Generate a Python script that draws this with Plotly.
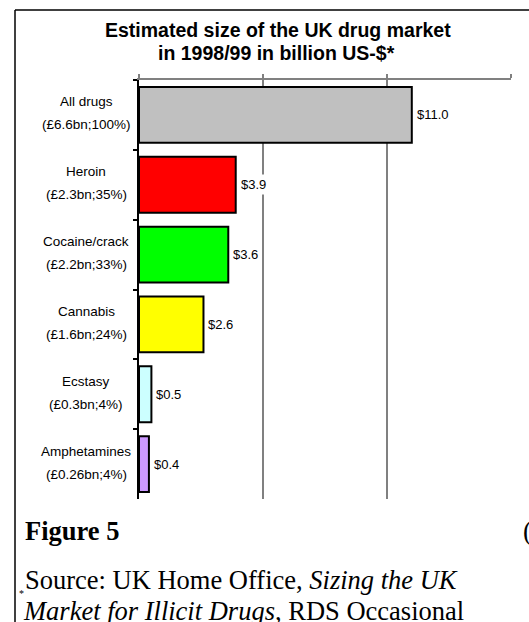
import plotly.graph_objects as go

# Market segments, top to bottom
drugs = ["All drugs", "Heroin", "Cocaine/crack", "Cannabis", "Ecstasy", "Amphetamines"]
gbp_share = ["(£6.6bn;100%)", "(£2.3bn;35%)", "(£2.2bn;33%)",
             "(£1.6bn;24%)", "(£0.3bn;4%)", "(£0.26bn;4%)"]
usd_billion = [11.0, 3.9, 3.6, 2.6, 0.5, 0.4]
bar_colors = ["#C0C0C0", "#FF0000", "#00FF00", "#FFFF00", "#CCFFFF", "#CC99FF"]

W, H = 529, 622
L, R, T, B = 139, 18, 80, 123
PW, PH = W - L - R, H - T - B


def px_x(x):
    return (x - L) / PW


def px_y(y):
    return (H - B - y) / PH


fig = go.Figure(go.Bar(
    x=usd_billion,
    y=drugs,
    orientation="h",
    marker=dict(color=bar_colors, line=dict(color="black", width=2)),
    hoverinfo="skip",
))

# value labels at the bar ends
for d, v in zip(drugs, usd_billion):
    fig.add_annotation(x=v, y=d, xref="x", yref="y", text=f"${v:.1f}",
                       showarrow=False, xanchor="left", xshift=2,
                       bgcolor="white", borderpad=2,
                       font=dict(family="Liberation Sans", size=13, color="black"))

# two-line category labels
label_font = dict(family="Liberation Sans", size=13.5, color="black")
for d, g in zip(drugs, gbp_share):
    fig.add_annotation(x=px_x(86), y=d, xref="paper", yref="y", text=d,
                       showarrow=False, xanchor="center", yanchor="middle", yshift=13,
                       font=label_font)
    fig.add_annotation(x=px_x(86), y=d, xref="paper", yref="y", text=g,
                       showarrow=False, xanchor="center", yanchor="middle", yshift=-10,
                       font=label_font)

title_font = dict(family="Liberation Sans", size=19.5, color="black", weight="bold")
fig.add_annotation(x=px_x(278), y=px_y(30), xref="paper", yref="paper",
                   text="Estimated size of the UK drug market", showarrow=False,
                   xanchor="center", yanchor="middle", font=title_font)
fig.add_annotation(x=px_x(276), y=px_y(53), xref="paper", yref="paper",
                   text="in 1998/99 in billion US-$*", showarrow=False,
                   xanchor="center", yanchor="middle", font=title_font)

serif = dict(family="Liberation Serif", size=26.5, color="black")
fig.add_annotation(x=px_x(23), y=px_y(531), xref="paper", yref="paper",
                   text="<b>Figure 5</b>", showarrow=False,
                   xanchor="left", yanchor="middle", font=serif)
fig.add_annotation(x=px_x(521), y=px_y(531), xref="paper", yref="paper",
                   text="(", showarrow=False,
                   xanchor="left", yanchor="middle", font=serif)
fig.add_annotation(x=px_x(23), y=px_y(580), xref="paper", yref="paper",
                   text="Source: UK Home Office, <i>Sizing the UK</i>", showarrow=False,
                   xanchor="left", yanchor="middle", font=serif)
fig.add_annotation(x=px_x(21), y=px_y(611), xref="paper", yref="paper",
                   text="<i>Market for Illicit Drugs</i>, RDS Occasional", showarrow=False,
                   xanchor="left", yanchor="middle", font=serif)
fig.add_annotation(x=px_x(17), y=px_y(593), xref="paper", yref="paper",
                   text="*", showarrow=False,
                   xanchor="left", yanchor="middle",
                   font=dict(family="Liberation Serif", size=10, color="black"))

# outer frame (top and left edges)
fig.add_shape(type="line", xref="paper", yref="paper",
              x0=px_x(15), x1=px_x(540), y0=px_y(10), y1=px_y(10),
              line=dict(color="black", width=1.5))
fig.add_shape(type="line", xref="paper", yref="paper",
              x0=px_x(15), x1=px_x(15), y0=px_y(10), y1=px_y(640),
              line=dict(color="black", width=1.5))

fig.update_layout(
    width=W, height=H,
    margin=dict(l=L, r=R, t=T, b=B, pad=0),
    paper_bgcolor="white", plot_bgcolor="white",
    showlegend=False, bargap=0.2,
    xaxis=dict(range=[0, 15], dtick=5, side="top", showticklabels=False,
               showgrid=True, gridcolor="#808080", gridwidth=1.5,
               showline=True, linecolor="#808080", linewidth=1.5,
               ticks="outside", ticklen=4, tickcolor="#808080", tickwidth=1.5,
               zeroline=False, fixedrange=True),
    yaxis=dict(autorange="reversed", showticklabels=False,
               showline=True, linecolor="black", linewidth=2,
               ticks="outside", ticklen=4, tickcolor="black", tickwidth=1.5,
               tickson="boundaries", showgrid=False, zeroline=False, fixedrange=True),
)

fig.write_html("out.html")
